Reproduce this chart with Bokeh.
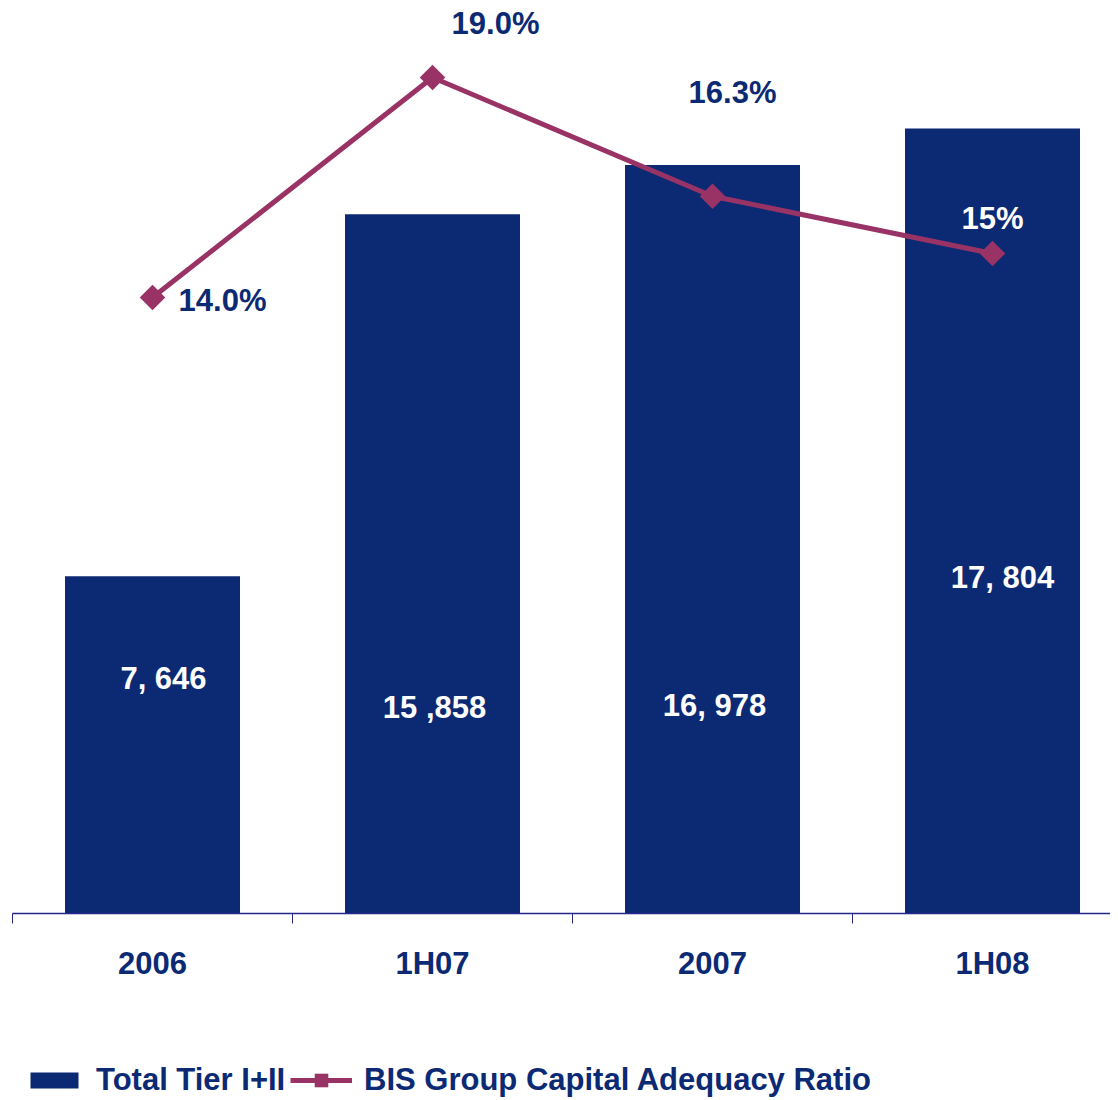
import math
from bokeh.plotting import figure
from bokeh.layouts import column
from bokeh.models import (ColumnDataSource, Range1d, FixedTicker, Legend, LegendItem)
from bokeh.core.properties import value
from bokeh.embed import file_html
from bokeh.resources import INLINE

# ---- data ----
categories = ["2006", "1H07", "2007", "1H08"]
tier_total = [7646, 15858, 16978, 17804]
tier_labels = ["7, 646", "15 ,858", "16, 978", "17, 804"]
bis_ratio = [14.0, 19.0, 16.3, 15.0]
bis_labels = ["14.0%", "19.0%", "16.3%", "15%"]

NAVY = "#0B2A73"
MAROON = "#993366"
AXIS = "#26268A"
FONT = "Liberation Sans"
FS = "31px"

idx = list(range(len(categories)))

p = figure(width=1110, height=1000,
           min_border_left=12, min_border_right=0, min_border_top=8, min_border_bottom=87,
           x_range=Range1d(-0.5, 3.4214), y_range=Range1d(0, 20525),
           y_axis_location=None, toolbar_location=None, output_backend="svg",
           background_fill_color="white", border_fill_color="white")
p.outline_line_color = None
p.xgrid.visible = False
p.ygrid.visible = False
p.extra_y_ranges = {"pct": Range1d(0, 20.568)}

src = ColumnDataSource(dict(x=idx, cat=categories, total=tier_total, tlab=tier_labels,
                            ratio=bis_ratio, rlab=bis_labels,
                            zero=[0] * len(idx),
                            tdx=[11, 2, 2, 10], tdy=[-235, -206, -208, -336],
                            rdx=[70, 63, 20, 0], rdy=[3, -54, -104, -35],
                            rcol=[NAVY, NAVY, NAVY, "white"]))

bars = p.vbar(x="x", top="total", width=0.625, source=src, fill_color=NAVY, line_color=None)

line_r = p.line(x="x", y="ratio", source=src, line_color=MAROON, line_width=5,
                y_range_name="pct")
pts = p.scatter(x="x", y="ratio", source=src, marker="square", angle=math.pi / 4,
                size=18, fill_color=MAROON, line_color=None, y_range_name="pct")

# bar value labels (white, inside bars)
p.text(x="x", y="zero", text="tlab", source=src, x_offset="tdx", y_offset="tdy",
       text_align="center", text_baseline="middle", text_color="white",
       text_font=value(FONT), text_font_style="bold", text_font_size=FS)

# ratio labels
p.text(x="x", y="ratio", text="rlab", source=src, y_range_name="pct",
       x_offset="rdx", y_offset="rdy",
       text_align="center", text_baseline="middle", text_color="rcol",
       text_font=value(FONT), text_font_style="bold", text_font_size=FS)

ax = p.xaxis[0]
ax.ticker = FixedTicker(ticks=idx, minor_ticks=[i + 0.5 for i in [-1] + idx])
ax.major_label_overrides = {i: c for i, c in zip(idx, categories)}
ax.major_tick_out = 0
ax.major_tick_in = 0
ax.minor_tick_out = 10
ax.minor_tick_in = 0
ax.minor_tick_line_color = AXIS
ax.axis_line_color = AXIS
ax.axis_line_width = 1.5
ax.major_label_standoff = 22
ax.major_label_text_font = FONT
ax.major_label_text_font_style = "bold"
ax.major_label_text_font_size = FS
ax.major_label_text_color = NAVY

# ---- legend strip (separate figure; its glyphs sit outside its ranges) ----
p2 = figure(width=1110, height=100,
            min_border_left=12, min_border_top=63, min_border_right=0, min_border_bottom=0,
            x_range=Range1d(100, 101), y_range=Range1d(100000, 100001),
            x_axis_location=None, y_axis_location=None,
            toolbar_location=None, output_backend="svg",
            background_fill_color="white", border_fill_color="white")
p2.outline_line_color = None
p2.grid.visible = False

lb = p2.vbar(x="x", top="total", width=0.625, source=src, fill_color=NAVY, line_color=None)
ll = p2.line(x="x", y="ratio", source=src, line_color=MAROON, line_width=5)
ls = p2.scatter(x="x", y="ratio", source=src, marker="square", angle=math.pi / 4,
                size=18, fill_color=MAROON, line_color=None)

common = dict(orientation="horizontal", label_standoff=12, spacing=2,
              padding=0, margin=0, border_line_color=None, background_fill_alpha=0,
              label_text_font=FONT, label_text_font_style="bold",
              label_text_font_size=FS, label_text_color=NAVY)

legend1 = Legend(items=[LegendItem(label="Total Tier I+II", renderers=[lb])],
                 location=(12, 2), glyph_width=60, glyph_height=20, **common)
legend2 = Legend(items=[LegendItem(label="BIS Group Capital Adequacy Ratio", renderers=[ll, ls])],
                 location=(278, 2), glyph_width=62, glyph_height=34, **common)
p2.add_layout(legend1)
p2.add_layout(legend2)

layout = column(p, p2, spacing=0)
open("out.html", "w").write(file_html(layout, INLINE))
